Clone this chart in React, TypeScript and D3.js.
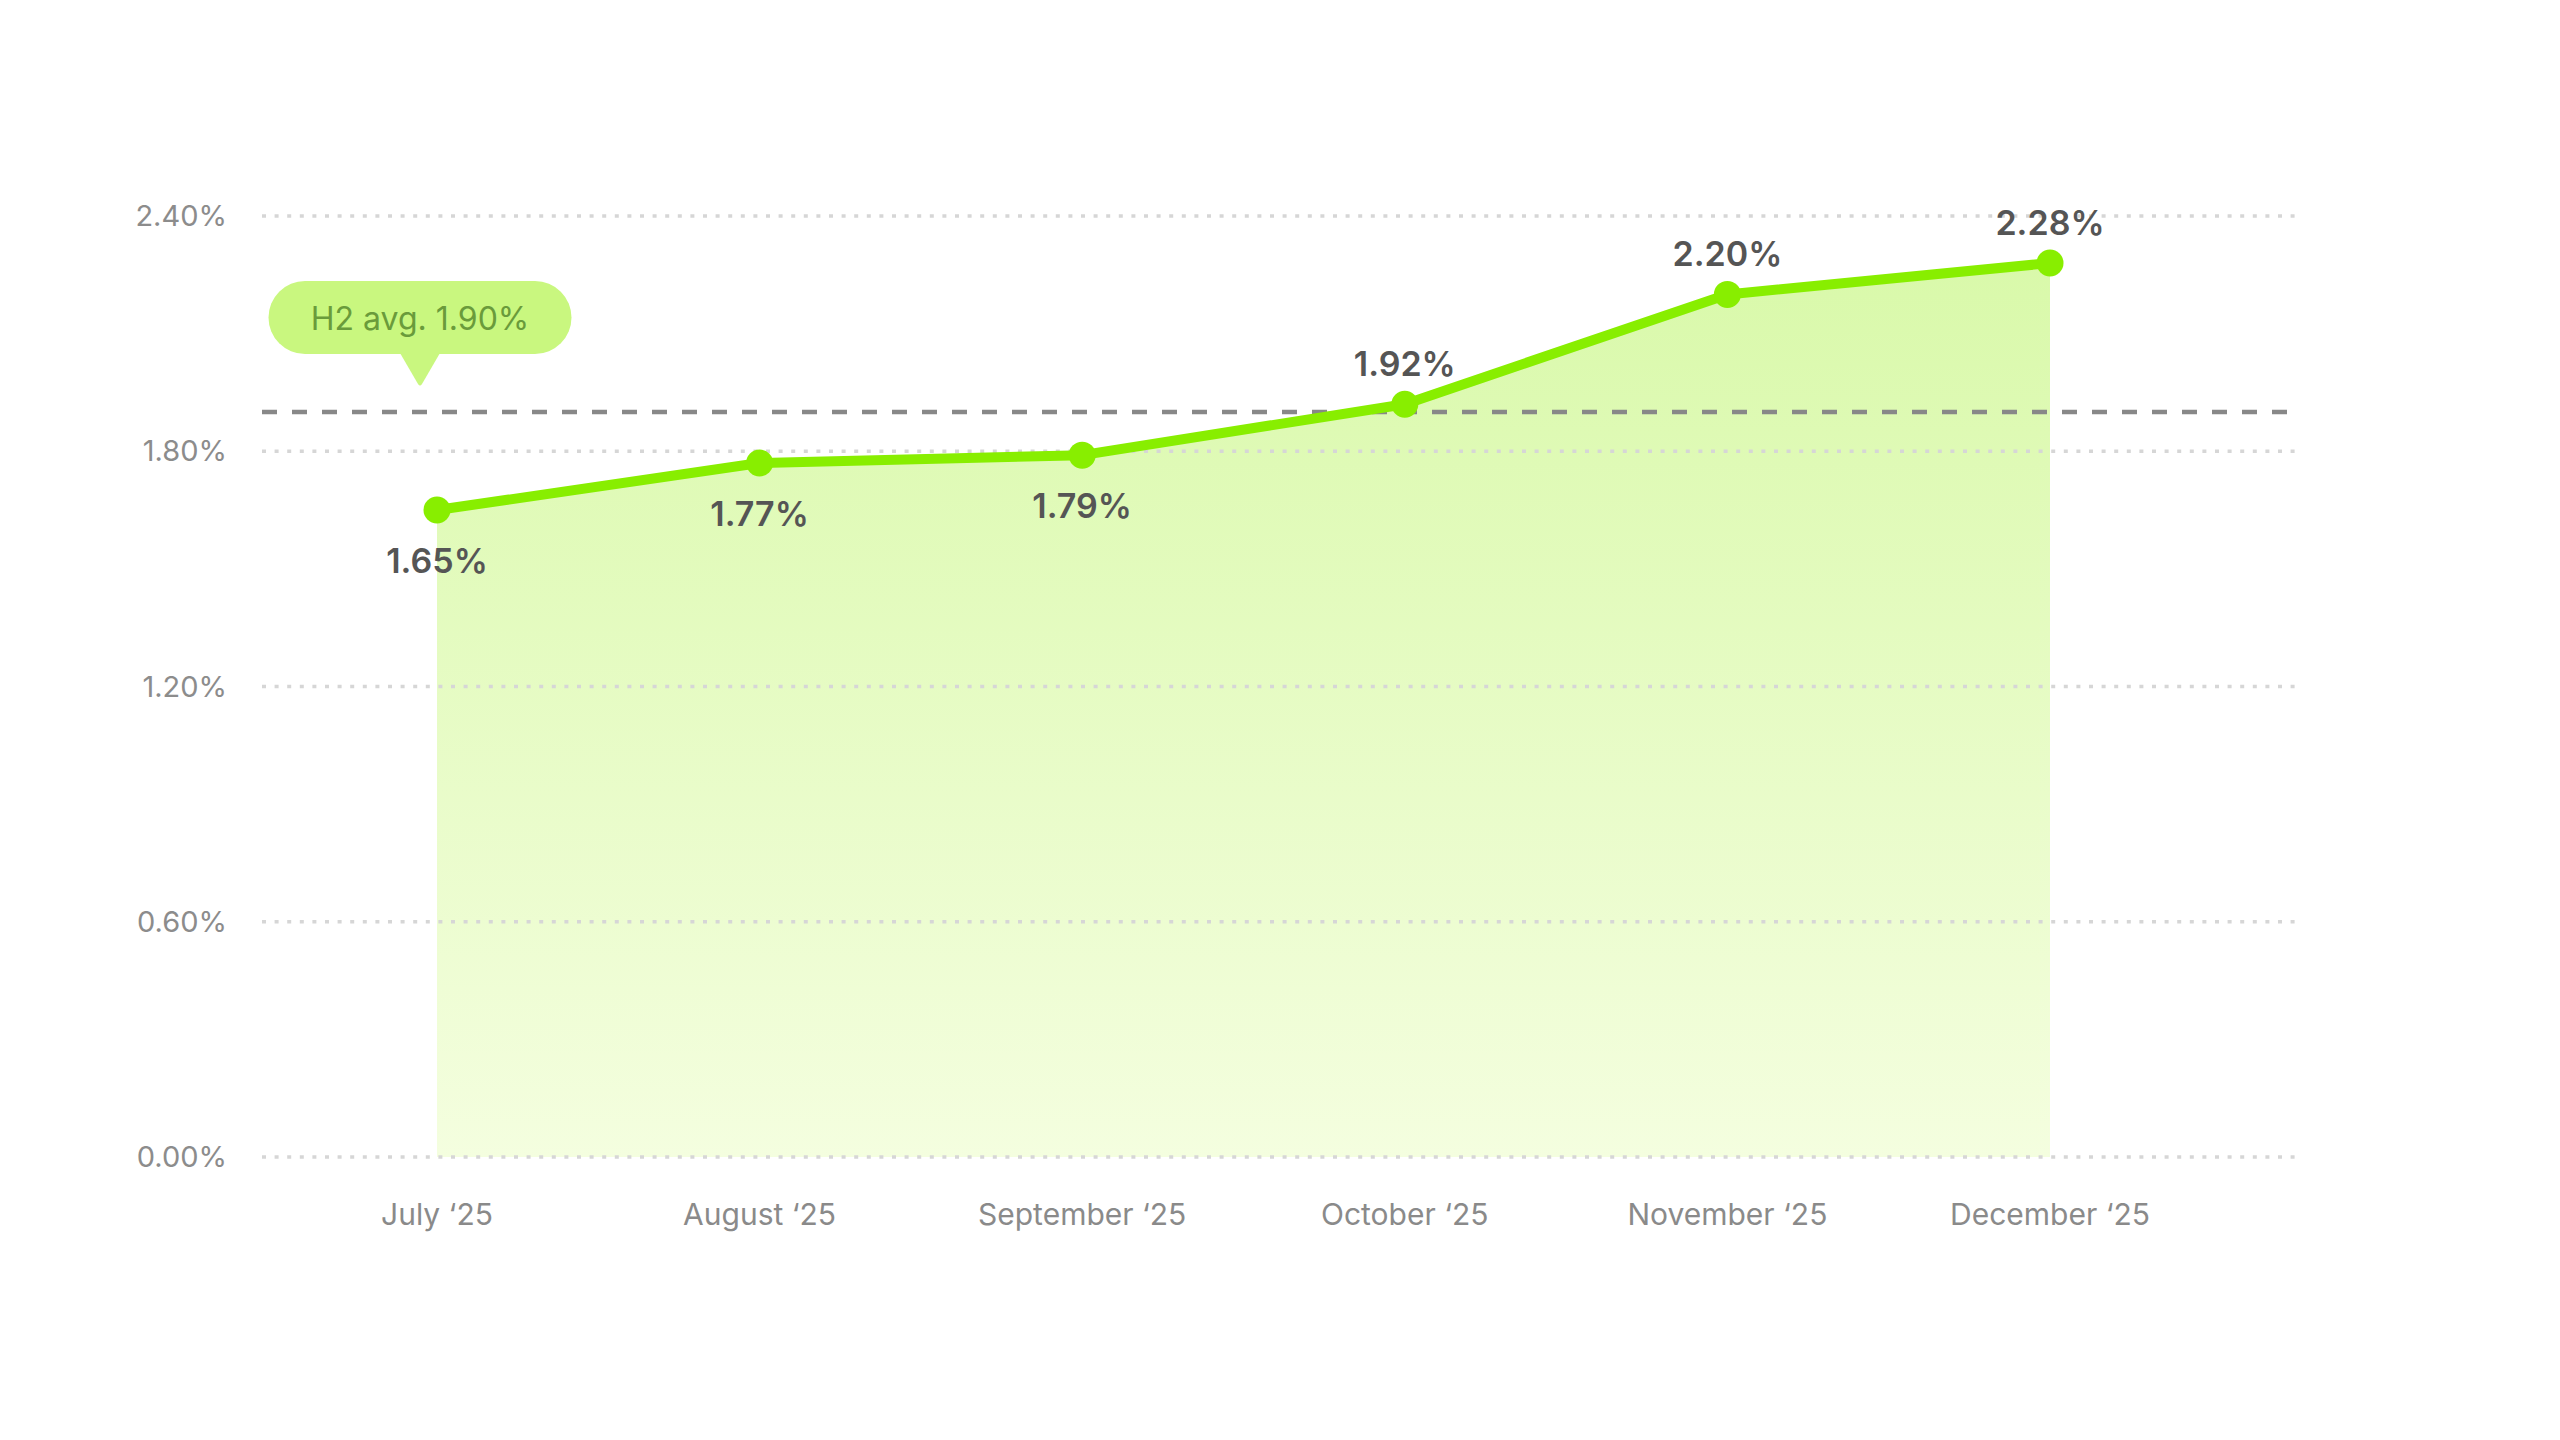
import * as d3 from "d3";

const months = ["July ‘25", "August ‘25", "September ‘25", "October ‘25", "November ‘25", "December ‘25"];
const rates = [1.65, 1.77, 1.79, 1.92, 2.2, 2.28];
const yTicks = [0, 0.6, 1.2, 1.8, 2.4];
const avgRate = 1.9;
const avgLabel = "H2 avg. 1.90%";

const W = 2560, H = 1440;
const FONT = "Inter, 'Noto Sans', sans-serif";
const GREEN = "#88ee00";

export default function App() {
  const x = d3.scalePoint<string>().domain(months).range([437, 2050]);
  const y = d3.scaleLinear().domain([0, 2.4]).range([1157, 216]);
  const gridX0 = 262, gridX1 = 2302;

  const pts = months.map((m, i) => ({ m, v: rates[i] }));
  const line = d3.line<{ m: string; v: number }>().x(d => x(d.m)!).y(d => y(d.v));
  const area = d3.area<{ m: string; v: number }>().x(d => x(d.m)!).y0(y(0)).y1(d => y(d.v));

  const avgY = y(avgRate);
  // callout bubble sits over the avg line near the left edge
  const tipX = 420, tipY = avgY - 26;
  const pillW = 303, pillH = 73;
  const pillBottom = tipY - 32;

  return (
    <svg width={W} height={H} viewBox={`0 0 ${W} ${H}`}
      style={{ position: "absolute", left: 0, top: 0, background: "#fff" }}>
      <defs>
        <linearGradient id="areaFill" gradientUnits="userSpaceOnUse" x1="0" y1={y(2.28)} x2="0" y2={y(0)}>
          <stop offset="0%" stopColor="#d9f9aa" />
          <stop offset="100%" stopColor="#f4fedf" />
        </linearGradient>
      </defs>

      <path d={area(pts) ?? ""} fill="url(#areaFill)" />

      {yTicks.map(t => (
        <g key={t}>
          <line x1={gridX0} x2={gridX1} y1={y(t)} y2={y(t)}
            stroke="#d6d6d6" strokeWidth={3.5} strokeDasharray="4 8.6" />
          <text x={227} y={y(t) + 10} textAnchor="end" fontFamily={FONT} fontSize={29} fill="#8c8c8c">
            {t.toFixed(2)}%
          </text>
        </g>
      ))}

      <line x1={gridX0} x2={gridX1} y1={avgY} y2={avgY}
        stroke="#888" strokeWidth={4.5} strokeDasharray="15 15" />

      <path d={line(pts) ?? ""} fill="none" stroke={GREEN} strokeWidth={10}
        strokeLinejoin="round" strokeLinecap="round" />
      {pts.map(p => (
        <circle key={p.m} cx={x(p.m)} cy={y(p.v)} r={13.5} fill={GREEN} />
      ))}

      {pts.map(p => {
        const above = p.v > avgRate;
        return (
          <text key={p.m} x={x(p.m)} y={above ? y(p.v) - 28 : y(p.v) + 63}
            textAnchor="middle" fontFamily={FONT} fontSize={34} fontWeight={600} fill="#555">
            {p.v.toFixed(2)}%
          </text>
        );
      })}

      {months.map(m => (
        <text key={m} x={x(m)} y={1225} textAnchor="middle" fontFamily={FONT} fontSize={30} fill="#8a8a8a">
          {m}
        </text>
      ))}

      <g>
        <rect x={tipX - pillW / 2} y={pillBottom - pillH} width={pillW} height={pillH}
          rx={pillH / 2} fill="#c9f77f" />
        <path d={`M ${tipX - 20} ${pillBottom - 1} L ${tipX + 20} ${pillBottom - 1} L ${tipX + 2} ${tipY - 2} Q ${tipX} ${tipY + 1} ${tipX - 2} ${tipY - 2} Z`}
          fill="#c9f77f" />
        <text x={tipX} y={pillBottom - pillH / 2 + 12} textAnchor="middle" fontFamily={FONT}
          fontSize={32} fill="#6a9b3b">
          {avgLabel}
        </text>
      </g>
    </svg>
  );
}
